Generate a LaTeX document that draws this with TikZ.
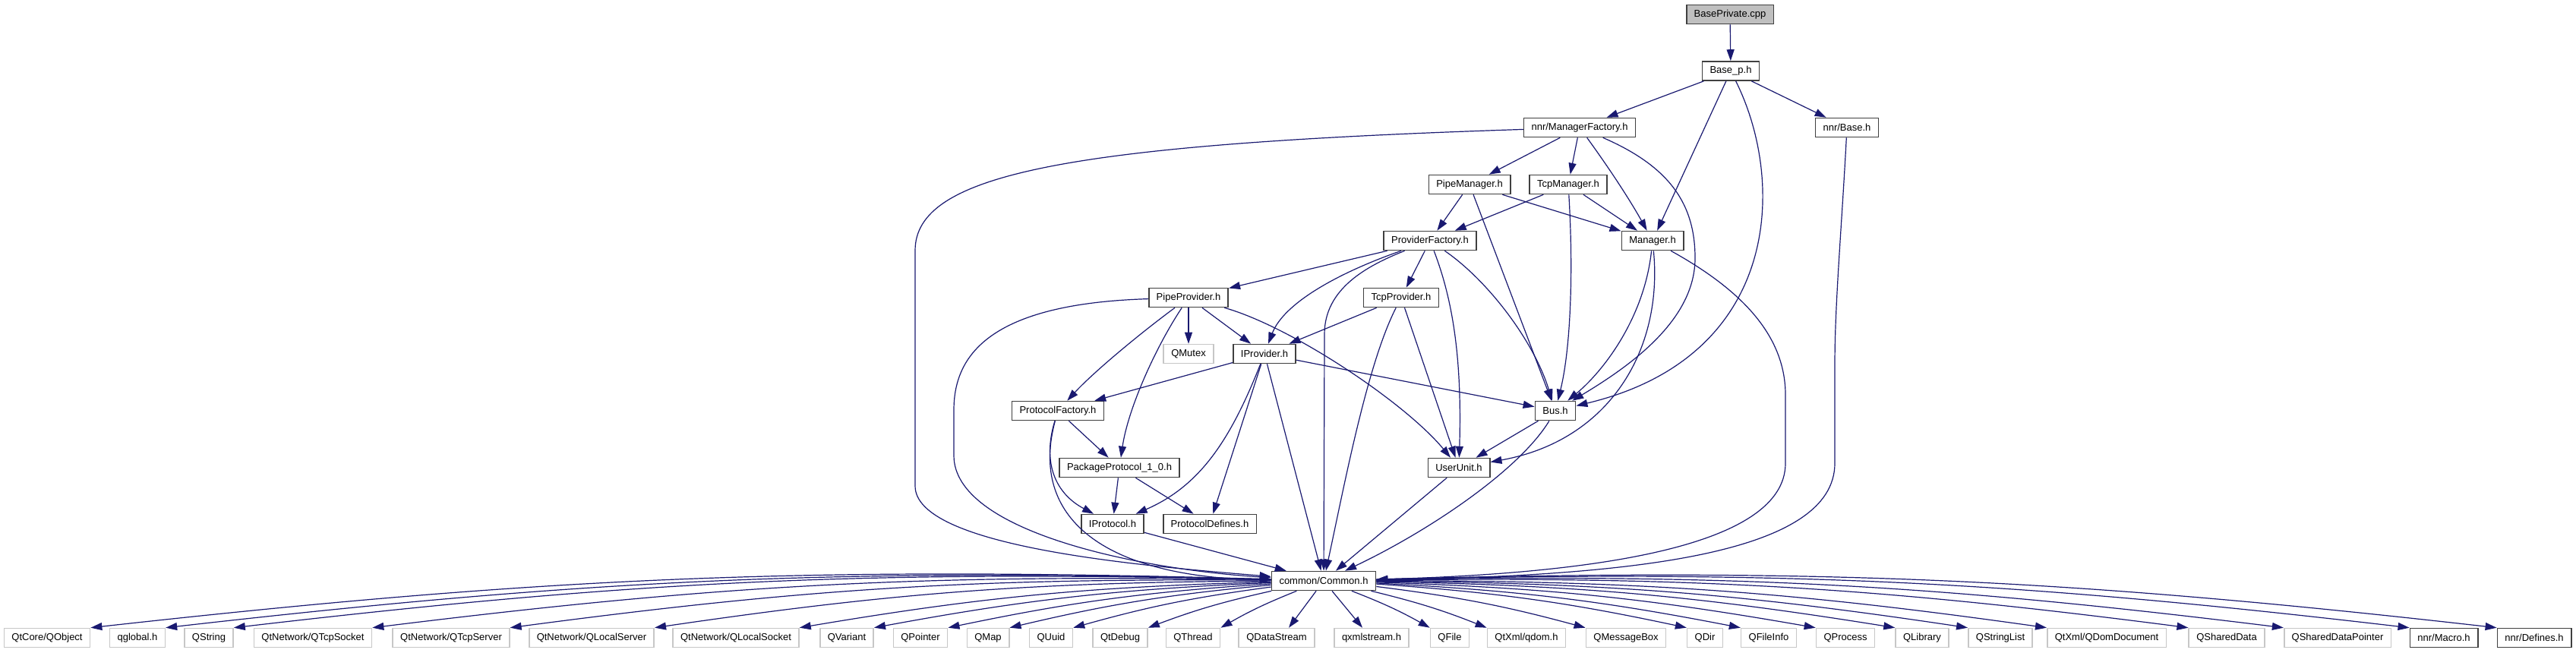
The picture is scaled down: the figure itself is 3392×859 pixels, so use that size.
\documentclass[tikz,border=0pt]{standalone}
\usepackage{fontspec}
\setmainfont{Liberation Sans}
\usepackage{xcolor}
\usetikzlibrary{arrows.meta}
\definecolor{edgeblue}{HTML}{191970}
\definecolor{rootgray}{HTML}{BFBFBF}
\tikzset{
  hdr/.style ={draw=black!75,line width=0.8pt,fill=white,minimum height=12.5pt,
               inner xsep=5pt,inner ysep=0pt,font=\fontsize{6.5}{7}\selectfont},
  ext/.style ={hdr,draw=black!22},
  root/.style={hdr,fill=rootgray},
  dep/.style ={edgeblue,line width=0.6pt,-{Triangle[length=7.5pt,width=5pt]}},
}
\begin{document}
\begin{tikzpicture}[x=0.5pt,y=-0.5pt]
  \useasboundingbox (0,0) rectangle (3392,859);
  % headers
  \node[root] (baseprivate) at (2278,19) {BasePrivate.cpp};
  \node[hdr] (basep) at (2279,93.5) {Base\_p.h};
  \node[hdr] (managerfactory) at (2080,168) {nnr/ManagerFactory.h};
  \node[hdr] (base) at (2432,168) {nnr/Base.h};
  \node[hdr] (pipemanager) at (1935,243) {PipeManager.h};
  \node[hdr] (tcpmanager) at (2065,243) {TcpManager.h};
  \node[hdr] (providerfactory) at (1883,317) {ProviderFactory.h};
  \node[hdr] (manager) at (2176,317) {Manager.h};
  \node[hdr] (pipeprovider) at (1565,392) {PipeProvider.h};
  \node[hdr] (tcpprovider) at (1845,392) {TcpProvider.h};
  \node[ext] (qmutex) at (1565,466) {QMutex};
  \node[hdr] (iprovider) at (1665,466) {IProvider.h};
  \node[hdr] (protocolfactory) at (1393,541) {ProtocolFactory.h};
  \node[hdr] (bus) at (2048,541) {Bus.h};
  \node[hdr] (packageprotocol) at (1474,616) {PackageProtocol\_1\_0.h};
  \node[hdr] (userunit) at (1921,616) {UserUnit.h};
  \node[hdr] (iprotocol) at (1465,690) {IProtocol.h};
  \node[hdr] (protocoldefines) at (1593,690) {ProtocolDefines.h};
  \node[hdr] (common) at (1743,765) {common/Common.h};
  % system headers
  \foreach \n/\x/\txt in {qobject/62/{QtCore/QObject},qglobal/181/{qglobal.h},
     qstring/275/{QString},qtcpsocket/412/{QtNetwork/QTcpSocket},
     qtcpserver/594/{QtNetwork/QTcpServer},qlocalserver/779/{QtNetwork/QLocalServer},
     qlocalsocket/969/{QtNetwork/QLocalSocket},qvariant/1115/{QVariant},
     qpointer/1212/{QPointer},qmap/1301/{QMap},quuid/1384/{QUuid},
     qtdebug/1475/{QtDebug},qthread/1571/{QThread},qdatastream/1681/{QDataStream},
     qxmlstream/1806/{qxmlstream.h},qfile/1909/{QFile},qdom/2010/{QtXml/qdom.h},
     qmessagebox/2141/{QMessageBox},qdir/2245/{QDir},qfileinfo/2329/{QFileInfo},
     qprocess/2430/{QProcess},qlibrary/2531/{QLibrary},qstringlist/2634/{QStringList},
     qdomdocument/2774/{QtXml/QDomDocument},qshareddata/2932/{QSharedData},
     qshareddatapointer/3078/{QSharedDataPointer}}
     \node[ext] (\n) at (\x,840) {\txt};
  \node[hdr] (macro) at (3218,840) {nnr/Macro.h};
  \node[hdr] (defines) at (3337,840) {nnr/Defines.h};

  % top part
  \draw[dep] (baseprivate) -- (basep);
  \draw[dep] (basep) -- (managerfactory);
  \draw[dep] (basep) -- (manager);
  \draw[dep] (basep) .. controls (2352,240) and (2345,470) .. (bus);
  \draw[dep] (basep) -- (base);
  \draw[dep] (base) .. controls (2425,300) and (2416,400) .. (2416,480)
     -- (2416,610) .. controls (2416,730) and (2150,758) .. (common);
  \draw[dep] (managerfactory) .. controls (1400,190) and (1205,230) .. (1205,330)
     -- (1205,640) .. controls (1205,720) and (1500,745) .. (common);
  \draw[dep] (managerfactory) -- (pipemanager);
  \draw[dep] (managerfactory) -- (tcpmanager);
  \draw[dep] (managerfactory) .. controls (2125,230) and (2150,270) .. (manager);
  \draw[dep] (managerfactory) .. controls (2200,220) and (2232,270) .. (2232,340)
     .. controls (2232,420) and (2150,480) .. (bus);
  \draw[dep] (pipemanager) -- (providerfactory);
  \draw[dep] (pipemanager) -- (manager);
  \draw[dep] (pipemanager) -- (bus);
  \draw[dep] (tcpmanager) -- (providerfactory);
  \draw[dep] (tcpmanager) -- (manager);
  \draw[dep] (tcpmanager) .. controls (2072,360) and (2068,460) .. (bus);
  \draw[dep] (manager) .. controls (2165,420) and (2110,490) .. (bus);
  \draw[dep] (manager) .. controls (2190,460) and (2120,580) .. (userunit);
  \draw[dep] (manager) .. controls (2290,380) and (2351,440) .. (2351,520)
     -- (2351,610) .. controls (2351,720) and (2100,755) .. (common);
  % providers
  \draw[dep] (providerfactory) -- (pipeprovider);
  \draw[dep] (providerfactory) .. controls (1760,360) and (1690,400) .. (iprovider);
  \draw[dep] (providerfactory) .. controls (1800,350) and (1744,380) .. (1744,440) -- (common);
  \draw[dep] (providerfactory) -- (tcpprovider);
  \draw[dep] (providerfactory) .. controls (1915,400) and (1925,480) .. (userunit);
  \draw[dep] (providerfactory) .. controls (1960,370) and (2020,450) .. (bus);
  \draw[dep] (pipeprovider) .. controls (1300,400) and (1256,470) .. (1256,540)
     -- (1256,600) .. controls (1256,700) and (1500,750) .. (common);
  \draw[dep] (pipeprovider) .. controls (1500,440) and (1440,490) .. (protocolfactory);
  \draw[dep] (pipeprovider) .. controls (1520,460) and (1485,540) .. (packageprotocol);
  \draw[dep] (pipeprovider) -- (qmutex);
  \draw[dep] (pipeprovider) -- (iprovider);
  \draw[dep] (pipeprovider) .. controls (1700,430) and (1850,530) .. (userunit);
  \draw[dep] (tcpprovider) -- (iprovider);
  \draw[dep] (tcpprovider) .. controls (1800,480) and (1770,640) .. (common);
  \draw[dep] (tcpprovider) -- (userunit);
  \draw[dep] (iprovider) -- (protocolfactory);
  \draw[dep] (iprovider) .. controls (1620,580) and (1580,640) .. (iprotocol);
  \draw[dep] (iprovider) -- (protocoldefines);
  \draw[dep] (iprovider) -- (common);
  \draw[dep] (iprovider) -- (bus);
  % protocols
  \draw[dep] (protocolfactory) -- (packageprotocol);
  \draw[dep] (protocolfactory) .. controls (1372,610) and (1390,650) .. (iprotocol);
  \draw[dep] (protocolfactory) .. controls (1355,680) and (1450,760) .. (common);
  \draw[dep] (packageprotocol) -- (iprotocol);
  \draw[dep] (packageprotocol) -- (protocoldefines);
  \draw[dep] (iprotocol) -- (common);
  \draw[dep] (bus) -- (userunit);
  \draw[dep] (bus) .. controls (2000,620) and (1880,700) .. (common);
  \draw[dep] (userunit) -- (common);
  % fan out of common/Common.h
  \foreach \n in {qobject,qglobal,qstring,qtcpsocket,qtcpserver,qlocalserver,
     qlocalsocket,qvariant,qpointer,qmap,quuid,qtdebug,qthread}
     \draw[dep] (common) to[bend right=4] (\n.north east);
  \draw[dep] (common) -- ([xshift=8pt]qdatastream.north);
  \draw[dep] (common) -- ([xshift=-6pt]qxmlstream.north);
  \foreach \n in {qfile,qdom,qmessagebox,qdir,qfileinfo,qprocess,qlibrary,
     qstringlist,qdomdocument,qshareddata,qshareddatapointer,macro,defines}
     \draw[dep] (common) to[bend left=4] (\n.north west);
\end{tikzpicture}
\end{document}
